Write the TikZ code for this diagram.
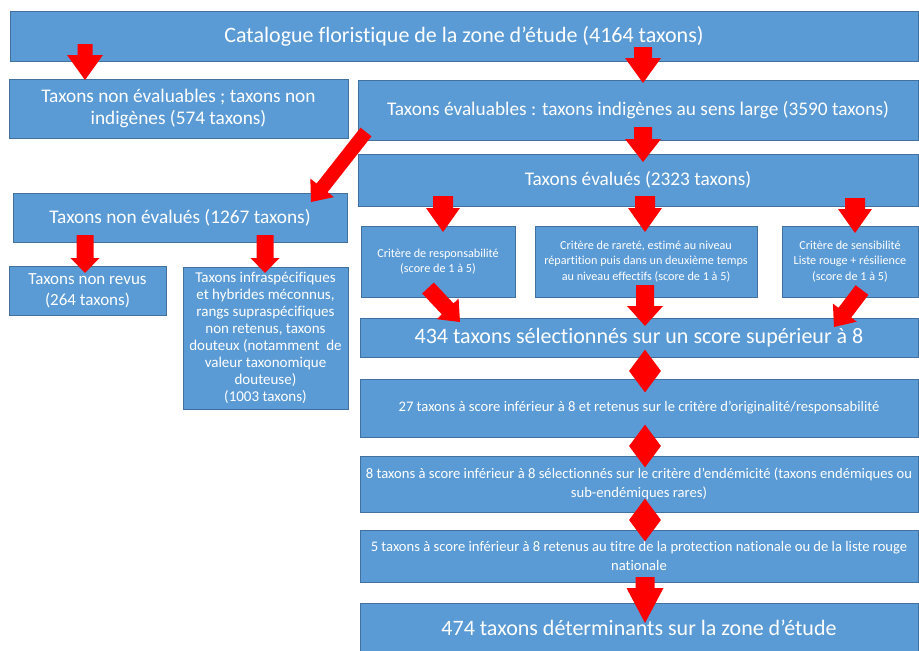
\documentclass[tikz,border=0pt]{standalone}
\usepackage{fontspec}
\setmainfont{Carlito}[Ligatures={NoCommon}]
\usetikzlibrary{calc,shapes.geometric}
\definecolor{boxblue}{HTML}{5B9BD5}
\definecolor{boxborder}{HTML}{41719C}
\definecolor{arrowred}{HTML}{FF0000}
\newcommand\blockarrow[5]{%
  \coordinate (ba-h) at ($(#2)!#5!(#1)$);
  \fill[arrowred] ($(#1)!#3!90:(#2)$) -- ($(ba-h)!#3!-90:(#1)$) -- ($(ba-h)!#4!-90:(#1)$) -- (#2)
    -- ($(ba-h)!#4!90:(#1)$) -- ($(ba-h)!#3!90:(#1)$) -- ($(#1)!#3!-90:(#2)$) -- cycle;}
\tikzset{
  box/.style={draw=boxborder, line width=0.8pt, fill=boxblue, text=white, inner sep=0pt, align=center},
  big/.style={font=\fontsize{22}{26}\selectfont},
  mid/.style={font=\fontsize{19.3}{22}\selectfont},
  small/.style={font=\fontsize{15}{16.9}\selectfont},
  tiny/.style={font=\fontsize{12.2}{15.5}\selectfont},
  note/.style={font=\fontsize{14.6}{18.5}\selectfont},
  losange/.style={diamond, fill=arrowred, inner sep=0pt, minimum width=32pt, minimum height=43pt}
}
\begin{document}
\begin{tikzpicture}[x=1pt,y=-1pt]
\useasboundingbox[fill=white] (0,0) rectangle (919,651);
% boxes
\node[box,big,minimum width=908pt,minimum height=50pt] (T) at (464,36) {Catalogue floristique de la zone d’étude (4164 taxons)};
\node[box,mid,minimum width=339pt,minimum height=59pt] (NE) at (178.5,108.5) {Taxons non évaluables ; taxons non\\indigènes (574 taxons)};
\node[box,mid,minimum width=560pt,minimum height=60pt] (EV) at (638,110) {Taxons évaluables : taxons indigènes au sens large (3590 taxons)};
\node[box,mid,minimum width=560pt,minimum height=52pt] (EVD) at (638,180) {Taxons évalués (2323 taxons)};
\node[box,mid,minimum width=334pt,minimum height=49pt] (NEV) at (180,217.5) {Taxons non évalués (1267 taxons)};
\node[box,font=\fontsize{17}{21}\selectfont,minimum width=157pt,minimum height=49pt] (NR) at (87.5,290.5) {Taxons non revus\\(264 taxons)};
\node[box,small,minimum width=165pt,minimum height=142pt] (INF) at (265.5,338) {Taxons infraspécifiques\\et hybrides méconnus,\\rangs supraspécifiques\\non retenus, taxons\\douteux (notamment\ \ de\\valeur taxonomique\\douteuse)\\(1003 taxons)};
\node[box,tiny,minimum width=154pt,minimum height=71pt] (C1) at (438,261.5) {Critère de responsabilité\\(score de 1 à 5)};
\node[box,tiny,minimum width=222pt,minimum height=71pt] (C2) at (646,261.5) {Critère de rareté, estimé au niveau\\répartition puis dans un deuxième temps\\au niveau effectifs (score de 1 à 5)};
\node[box,tiny,minimum width=136pt,minimum height=71pt] (C3) at (850,261.5) {Critère de sensibilité\\Liste rouge + résilience\\(score de 1 à 5)};
\node[box,big,minimum width=558pt,minimum height=39pt] (S434) at (639,337.5) {434 taxons sélectionnés sur un score supérieur à 8};
\node[box,note,minimum width=558pt,minimum height=58pt] (S27) at (639,408) {27 taxons à score inférieur à 8 et retenus sur le critère d’originalité/responsabilité};
\node[box,note,minimum width=558pt,minimum height=56pt] (S8) at (639,484) {8 taxons à score inférieur à 8 sélectionnés sur le critère d’endémicité (taxons endémiques ou\\sub-endémiques rares)};
\node[box,note,minimum width=558pt,minimum height=52pt] (S5) at (639,556) {5 taxons à score inférieur à 8 retenus au titre de la protection nationale ou de la liste rouge\\nationale};
\node[box,big,minimum width=558pt,minimum height=48pt] (S474) at (639,627.5) {474 taxons déterminants sur la zone d’étude};
% diamonds
\node[losange] (D1) at (645,371) {};
\node[losange] (D2) at (645,446) {};
\node[losange] (D3) at (645,520) {};
% arrow end points
\coordinate (a1s) at (85,44);   \coordinate (a1e) at (85,80);
\coordinate (a2s) at (643,47);  \coordinate (a2e) at (643,83);
\coordinate (a3s) at (643,127); \coordinate (a3e) at (643,162);
\coordinate (a4s) at (85,235);  \coordinate (a4e) at (85,273);
\coordinate (a5s) at (265,235); \coordinate (a5e) at (265,273);
\coordinate (a6s) at (443,196); \coordinate (a6e) at (443,232);
\coordinate (a7s) at (645,196); \coordinate (a7e) at (645,232);
\coordinate (a8s) at (855,198); \coordinate (a8e) at (855,233);
\coordinate (a9s) at (645,285); \coordinate (a9e) at (645,326);
\coordinate (a10s) at (645,577); \coordinate (a10e) at (645,623);
\coordinate (dAs) at (366,132); \coordinate (dAe) at (311,202);
\coordinate (dBs) at (428,288); \coordinate (dBe) at (460,322);
\coordinate (dCs) at (862,290); \coordinate (dCe) at (834,327);
% arrows
\blockarrow{a1s}{a1e}{7.5pt}{18pt}{25pt}
\blockarrow{a2s}{a2e}{9pt}{18pt}{25pt}
\blockarrow{a3s}{a3e}{9pt}{18pt}{23pt}
\blockarrow{a4s}{a4e}{8.5pt}{14.5pt}{15pt}
\blockarrow{a5s}{a5e}{8.5pt}{14.5pt}{15pt}
\blockarrow{a6s}{a6e}{10pt}{17pt}{24pt}
\blockarrow{a7s}{a7e}{10pt}{17pt}{24pt}
\blockarrow{a8s}{a8e}{10pt}{17pt}{24pt}
\blockarrow{a9s}{a9e}{9pt}{18pt}{20pt}
\blockarrow{a10s}{a10e}{9.5pt}{18.5pt}{35pt}
\blockarrow{dAs}{dAe}{7pt}{15pt}{18pt}
\blockarrow{dBs}{dBe}{8pt}{15pt}{18pt}
\blockarrow{dCs}{dCe}{8pt}{15pt}{18pt}
\end{tikzpicture}
\end{document}
